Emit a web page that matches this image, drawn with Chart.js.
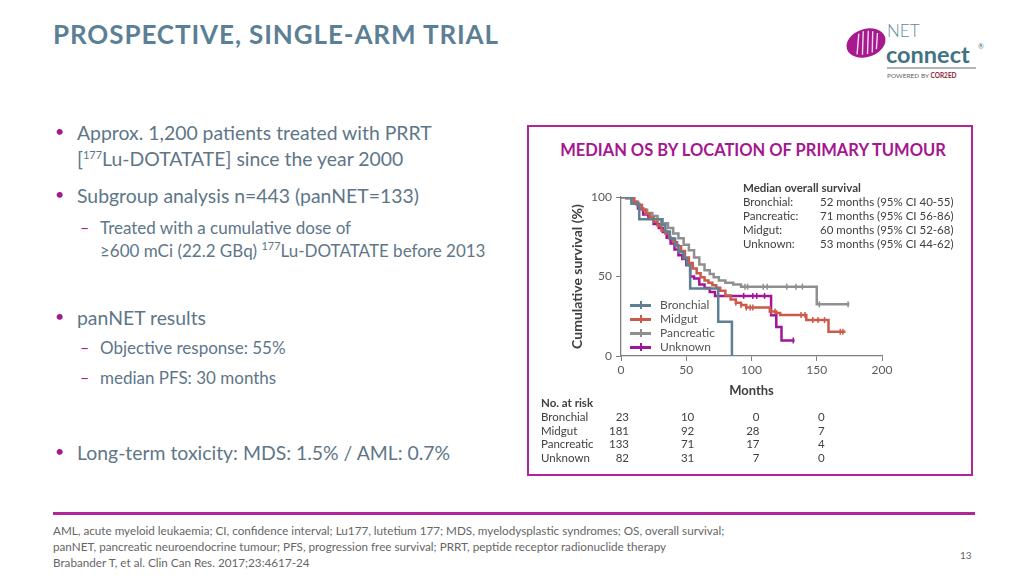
<!DOCTYPE html>
<html>
<head>
<meta charset="utf-8">
<script src="https://cdn.jsdelivr.net/npm/chart.js@4.4.1/dist/chart.umd.min.js"></script>
<style>
  body { margin:0; width:1024px; height:576px; overflow:hidden; background:#fff; position:relative; font-family:Lato, 'Open Sans', sans-serif; }
  .abs { position:absolute; white-space:nowrap; }
  .title { left:53px; top:18px; font-size:26px; font-weight:700; color:#5b7f95; letter-spacing:0.9px; }
  .txt { color:#5e7688; font-size:19.4px; line-height:22px; }
  .sub { color:#5e7688; font-size:17px; line-height:20px; }
  .dot { color:#a3198f; font-size:16px; }
  .dash { color:#a3198f; font-size:16px; }
  sup { font-size:11px; vertical-align:7px; line-height:0; }
  .box { left:527px; top:125px; width:442px; height:347px; border:2.5px solid #b1259b; }
  .ctitle { left:530px; width:446px; top:140px; text-align:center; font-size:16.5px; font-weight:700; color:#a5178f; }
  .med { font-size:11.5px; color:#404040; line-height:14px; }
  .leg { font-size:12px; color:#555; line-height:14px; }
  .risk { font-size:11.5px; color:#404040; line-height:14px; }
  .foot { left:53px; font-size:11.7px; color:#666; line-height:16px; }
</style>
</head>
<body>

<div class="abs title">PROSPECTIVE, SINGLE-ARM TRIAL</div>

<!-- logo -->
<svg class="abs" style="left:840px;top:20px" width="160" height="62">
  <g transform="rotate(-18 26 23)">
    <ellipse cx="26" cy="23" rx="20" ry="14" fill="#a8198f"/>
    <path d="M14 31 L22 12 M19 33 L27 11 M24 34 L32 12 M29 34 L36 14 M34 32 L40 17" stroke="#fff" stroke-width="1.4" fill="none" opacity="0.85"/>
  </g>
  <text x="47" y="17" font-family="Lato" font-weight="300" font-size="17" fill="#5d8a98">NET</text>
  <text x="46" y="43" font-family="Lato" font-weight="700" font-size="23.5" fill="#3f7382">connect</text>
  <text x="138" y="29" font-family="Lato" font-size="7" fill="#3f7382">®</text>
  <line x1="47" y1="48" x2="136" y2="48" stroke="#9a9a9a" stroke-width="1.5"/>
  <text x="47" y="58" font-family="Lato" font-size="6.5" fill="#666">POWERED BY <tspan font-weight="700" fill="#8b2332">COR2ED</tspan></text>
</svg>

<!-- bullets -->
<div class="abs dot" style="left:55px;top:121px">•</div>
<div class="abs txt" style="left:77px;top:122px">Approx. 1,200 patients treated with PRRT</div>
<div class="abs txt" style="left:77px;top:148px">[<sup>177</sup>Lu-DOTATATE] since the year 2000</div>

<div class="abs dot" style="left:55px;top:184px">•</div>
<div class="abs txt" style="left:77px;top:185px">Subgroup analysis n=443 (panNET=133)</div>
<div class="abs dash" style="left:80px;top:217px">–</div>
<div class="abs sub" style="left:100px;top:218px">Treated with a cumulative dose of</div>
<div class="abs sub" style="left:100px;top:241px">≥600 mCi (22.2 GBq) <sup>177</sup>Lu-DOTATATE before 2013</div>

<div class="abs dot" style="left:55px;top:306px">•</div>
<div class="abs txt" style="left:77px;top:307px">panNET results</div>
<div class="abs dash" style="left:80px;top:337px">–</div>
<div class="abs sub" style="left:100px;top:338px">Objective response: 55%</div>
<div class="abs dash" style="left:80px;top:367px">–</div>
<div class="abs sub" style="left:100px;top:368px">median PFS: 30 months</div>

<div class="abs dot" style="left:55px;top:441px">•</div>
<div class="abs txt" style="left:77px;top:442px">Long-term toxicity: MDS: 1.5% / AML: 0.7%</div>

<!-- chart panel -->
<div class="abs box"></div>
<div class="abs ctitle">MEDIAN OS BY LOCATION OF PRIMARY TUMOUR</div>
<div class="abs" style="left:535px;top:178px;width:400px;height:225px">
  <canvas id="kmChart"></canvas>
</div>
<div id="medBlock" class="abs med" style="left:743px;top:181px"></div>
<div id="legend" class="abs leg" style="left:628px;top:298px"></div>
<div id="riskTable"></div>

<!-- footer -->
<div class="abs" style="left:53px;top:512px;width:922px;height:2.5px;background:#b1279b"></div>
<div class="abs foot" style="top:522px">AML, acute myeloid leukaemia; CI, confidence interval; Lu177, lutetium 177; MDS, myelodysplastic syndromes; OS, overall survival;</div>
<div class="abs foot" style="top:538px">panNET, pancreatic neuroendocrine tumour; PFS, progression free survival; PRRT, peptide receptor radionuclide therapy</div>
<div class="abs foot" style="top:554px">Brabander T, et al. Clin Can Res. 2017;23:4617-24</div>
<div class="abs" style="left:960px;top:549px;font-size:10px;color:#666">13</div>

<script>
// Kaplan-Meier steps (months, cumulative survival %)
const bronMonths = [0, 8, 14, 31, 34, 37.5, 41.5, 44, 48, 50.5, 53, 74.5, 85];
const bronSurv   = [100, 95.7, 86, 82.6, 78.3, 73.9, 69.6, 65.2, 61.5, 57, 42.5, 21.5, 0];

const midMonths = [0, 7, 10, 13, 16, 19, 22, 25, 28, 31, 34, 37, 40, 43, 46, 49, 52, 55, 58, 61, 64, 67, 70, 73, 76, 80, 84, 88, 92, 96, 114, 119, 122, 142, 159, 172];
const midSurv   = [100, 100, 97, 95, 92, 89.5, 87, 84.5, 82, 79, 77, 74, 71.5, 69, 66, 62, 58.5, 55, 52, 49.5, 47.5, 46, 44.5, 43, 41, 38, 35.5, 33.5, 32, 30.5, 28, 27, 25.8, 22.6, 15.3, 15.3];

const panMonths = [0, 4, 8, 12, 16, 20, 24, 28, 32, 36, 40, 44, 48, 52, 56, 60, 64, 68, 71, 75, 80, 86, 92, 150, 175];
const panSurv   = [100, 99, 97, 95, 92, 90, 88, 86, 83.5, 80.5, 77, 74, 70, 66.5, 62, 57.5, 54, 51.5, 49.5, 47.5, 46, 45, 43.6, 32.5, 32.5];

const unkMonths = [0, 8, 10, 13, 17, 21, 25, 29, 32, 35, 38, 41, 44, 47, 50, 53, 56, 60, 64, 68, 72, 115, 119, 123, 133];
const unkSurv   = [100, 100, 96, 92.7, 89, 86.6, 83, 80.5, 78, 74.4, 70.7, 67, 63.4, 61, 57.3, 50, 48.8, 45, 42.7, 40.2, 37.8, 25.6, 18.3, 9.8, 9.8];

// censoring marks (months)
const bronCensor = [];
const midCensor  = [88, 92, 96, 99, 101, 115, 118, 138, 141, 147, 151, 156, 168, 170];
const panCensor  = [95, 97, 109, 112, 127, 134, 139, 152, 174];
const unkCensor  = [94, 101, 104, 110, 132];

const groupNames  = ['Bronchial', 'Midgut', 'Pancreatic', 'Unknown'];
const groupColors = ['#5f8093', '#cc5a4b', '#8f8f8f', '#a1159b'];

const xTicks = [0, 50, 100, 150, 200];
const yTicks = [0, 50, 100];

const medianNames  = ['Bronchial:', 'Pancreatic:', 'Midgut:', 'Unknown:'];
const medianValues = ['52 months (95% CI 40-55)', '71 months (95% CI 56-86)', '60 months (95% CI 52-68)', '53 months (95% CI 44-62)'];

const riskTimes  = [0, 50, 100, 150];
const riskNames  = ['Bronchial', 'Midgut', 'Pancreatic', 'Unknown'];
const riskCounts = [[23, 10, 0, 0], [181, 92, 28, 7], [133, 71, 17, 4], [82, 31, 7, 0]];

const curves = [
  { months: bronMonths, surv: bronSurv, censor: bronCensor },
  { months: midMonths, surv: midSurv, censor: midCensor },
  { months: panMonths, surv: panSurv, censor: panCensor },
  { months: unkMonths, surv: unkSurv, censor: unkCensor }
];

function survAt(c, t) {
  let v = c.surv[0];
  c.months.forEach((m, i) => { if (m <= t) v = c.surv[i]; });
  return v;
}

const datasets = [];
curves.forEach((c, i) => {
  datasets.push({
    label: groupNames[i],
    data: c.months.map((m, k) => ({ x: m, y: c.surv[k] })),
    borderColor: groupColors[i], backgroundColor: groupColors[i],
    borderWidth: 2.5, stepped: true, pointRadius: 0, fill: false, order: i
  });
});
curves.forEach((c, i) => {
  datasets.push({
    label: groupNames[i] + ' censored',
    data: c.censor.map(t => ({ x: t, y: survAt(c, t) })),
    showLine: false, pointStyle: 'line', rotation: 90, pointRadius: 3,
    borderColor: groupColors[i], borderWidth: 1.5, order: i
  });
});

const tickFont = { family: 'Lato', size: 12 };
const chart = new Chart(document.getElementById('kmChart'), {
  type: 'line',
  data: { datasets },
  options: {
    responsive: true, maintainAspectRatio: false, animation: false,
    layout: { padding: { left: 30, right: 53, top: 19, bottom: 0 } },
    plugins: { legend: { display: false }, tooltip: { enabled: false } },
    scales: {
      x: {
        type: 'linear', min: 0, max: 200,
        afterBuildTicks: s => { s.ticks = xTicks.map(v => ({ value: v })); },
        afterFit: s => { s.height = 47; },
        ticks: { color: '#595959', font: tickFont, padding: 2 },
        grid: { display: true, drawOnChartArea: false, drawTicks: true, tickLength: 5, color: '#808080' },
        border: { color: '#808080', width: 1.3 },
        title: { display: true, text: 'Months', color: '#404040', font: { family: 'Lato', size: 13, weight: 'bold' }, padding: { top: 2 } }
      },
      y: {
        min: 0, max: 100,
        afterBuildTicks: s => { s.ticks = yTicks.map(v => ({ value: v })); },
        afterFit: s => { s.width = 56; },
        ticks: { color: '#595959', font: tickFont, padding: 4 },
        grid: { display: true, drawOnChartArea: false, drawTicks: true, tickLength: 5, color: '#808080' },
        border: { color: '#808080', width: 1.3 },
        title: { display: true, text: 'Cumulative survival (%)', color: '#404040', font: { family: 'Lato', size: 14, weight: 'bold' } }
      }
    }
  }
});

// median OS block
document.getElementById('medBlock').innerHTML =
  '<div style="font-weight:700">Median overall survival</div>' +
  medianNames.map((n, i) => `<div><span style="display:inline-block;width:77px">${n}</span>${medianValues[i]}</div>`).join('');

// legend inside the plot
document.getElementById('legend').innerHTML = groupNames.map((n, i) => `
  <div style="height:14px;position:relative">
    <span style="position:absolute;left:2px;top:6px;width:21px;height:2.5px;background:${groupColors[i]}"></span>
    <span style="position:absolute;left:12px;top:3px;width:1.5px;height:8px;background:${groupColors[i]}"></span>
    <span style="position:absolute;left:32px;top:0">${n}</span>
  </div>`).join('');

// number at risk table aligned to x scale
const xs = chart.scales.x;
const canvasLeft = 535;
let html = '<div class="abs risk" style="left:541px;top:396px;font-weight:700">No. at risk</div>';
riskNames.forEach((n, r) => {
  const top = 410 + r * 13.7;
  html += `<div class="abs risk" style="left:541px;top:${top}px">${n}</div>`;
  riskTimes.forEach((t, j) => {
    const right = 1024 - (canvasLeft + xs.getPixelForValue(t) + 8);
    html += `<div class="abs risk" style="right:${right}px;top:${top}px;text-align:right">${riskCounts[r][j]}</div>`;
  });
});
document.getElementById('riskTable').innerHTML = html;
</script>
</body>
</html>
